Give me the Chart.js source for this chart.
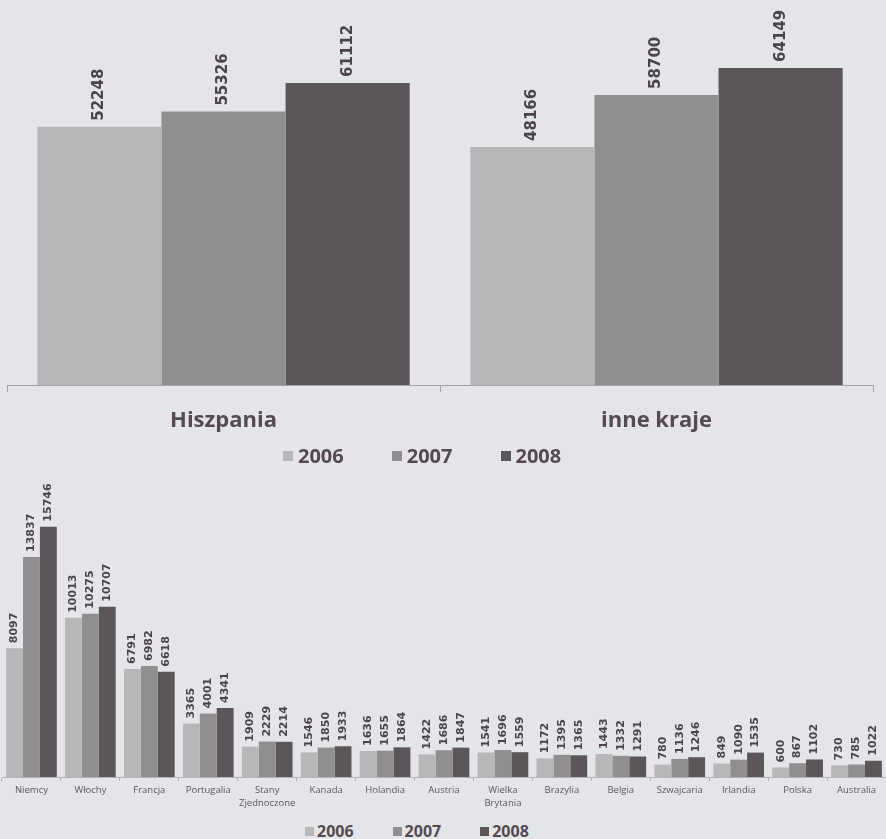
<!DOCTYPE html>
<html lang="pl">
<head>
<meta charset="utf-8">
<title>Wyjazdy</title>
<script src="https://cdn.jsdelivr.net/npm/chart.js@4"></script>
<style>
  html, body {
    margin: 0;
    padding: 0;
    background: #e3e5e9;
    width: 886px;
    height: 839px;
    overflow: hidden;
    position: relative;
  }
  canvas {
    position: absolute;
    left: 0;
  }
  #chartTop {
    top: 0;
  }
  #chartBottom {
    top: 470px;
  }
  .legend {
    position: absolute;
    display: flex;
    align-items: center;
    font-family: "Open Sans", sans-serif;
    font-weight: bold;
    color: #544a50;
  }
  .legend span.item {
    display: flex;
    align-items: center;
  }
  .legend-top {
    left: 283px;
    top: 446px;
    gap: 48px;
    font-size: 20px;
    line-height: 20px;
  }
  .legend-top i {
    width: 10px;
    height: 10px;
    margin-right: 5px;
  }
  .legend-bottom {
    left: 305px;
    top: 823px;
    gap: 39px;
    font-size: 16px;
    line-height: 16px;
  }
  .legend-bottom i {
    width: 9px;
    height: 9px;
    margin-right: 3px;
  }
</style>
</head>
<body>
<canvas id="chartTop" width="886" height="445"></canvas>
<canvas id="chartBottom" width="886" height="346"></canvas>
<div class="legend legend-top" id="legendTop"></div>
<div class="legend legend-bottom" id="legendBottom"></div>

<script>
// ------------- DANE -------------
const years = ["2006", "2007", "2008"];
const yearColors = ["#b7b7b7", "#8f8f8f", "#5b5658"];

// górny wykres
const topCategories = ["Hiszpania", "inne kraje"];
const top2006 = [52248, 48166];
const top2007 = [55326, 58700];
const top2008 = [61112, 64149];

// dolny wykres
const countries = [
  "Niemcy",
  "Włochy",
  "Francja",
  "Portugalia",
  ["Stany", "Zjednoczone"],
  "Kanada",
  "Holandia",
  "Austria",
  ["Wielka", "Brytania"],
  "Brazylia",
  "Belgia",
  "Szwajcaria",
  "Irlandia",
  "Polska",
  "Australia",
];
const countries2006 = [8097, 10013, 6791, 3365, 1909, 1546, 1636, 1422, 1541, 1172, 1443, 780, 849, 600, 730];
const countries2007 = [13837, 10275, 6982, 4001, 2229, 1850, 1655, 1686, 1696, 1395, 1332, 1136, 1090, 867, 785];
const countries2008 = [15746, 10707, 6618, 4341, 2214, 1933, 1864, 1847, 1559, 1365, 1291, 1246, 1535, 1102, 1022];

// ------------- etykiety wartości nad słupkami -------------
const valueLabels = {
  id: "valueLabels",
  afterDatasetsDraw(chart, args, opts) {
    const ctx = chart.ctx;
    ctx.save();
    ctx.font = opts.font;
    ctx.fillStyle = opts.color;
    ctx.textAlign = "left";
    ctx.textBaseline = "middle";
    chart.data.datasets.forEach((ds, i) => {
      chart.getDatasetMeta(i).data.forEach((bar, j) => {
        ctx.save();
        ctx.translate(bar.x, bar.y - opts.offset);
        ctx.rotate(-Math.PI / 2);
        ctx.fillText(ds.data[j], 0, 0);
        ctx.restore();
      });
    });
    ctx.restore();
  },
};

function makeDatasets(series) {
  return series.map((data, i) => ({
    label: years[i],
    data: data,
    backgroundColor: yearColors[i],
    borderWidth: 0,
    barPercentage: 1,
    categoryPercentage: 0.86,
  }));
}

function makeLegend(id) {
  const box = document.getElementById(id);
  years.forEach((y, i) => {
    const item = document.createElement("span");
    item.className = "item";
    const sq = document.createElement("i");
    sq.style.background = yearColors[i];
    item.appendChild(sq);
    item.appendChild(document.createTextNode(y));
    box.appendChild(item);
  });
}

// ---------------- GÓRNY WYKRES ---------------
const ctx1 = document.getElementById("chartTop").getContext("2d");
const chartTop = new Chart(ctx1, {
  type: "bar",
  data: {
    labels: topCategories,
    datasets: makeDatasets([top2006, top2007, top2008]),
  },
  options: {
    responsive: false,
    animation: false,
    layout: { padding: { left: 7, right: 13, top: 0, bottom: 0 } },
    plugins: {
      legend: { display: false },
      tooltip: { enabled: false },
      valueLabels: {
        font: "bold 15px 'DejaVu Sans'",
        color: "#4b4548",
        offset: 6,
      },
    },
    scales: {
      y: { display: false, min: 0, max: 77900 },
      x: {
        grid: {
          offset: true,
          drawOnChartArea: false,
          drawTicks: true,
          tickLength: 7,
          color: "#a3a3a3",
        },
        border: { display: true, color: "#a3a3a3" },
        ticks: {
          font: { family: "Open Sans", size: 22, weight: "bold" },
          color: "#554a50",
          padding: 16,
          maxRotation: 0,
        },
        afterFit: (scale) => {
          scale.height = 60;
        },
      },
    },
  },
  plugins: [valueLabels],
});

// ---------------- DOLNY WYKRES ---------------
const ctx2 = document.getElementById("chartBottom").getContext("2d");
const chartBottom = new Chart(ctx2, {
  type: "bar",
  data: {
    labels: countries,
    datasets: makeDatasets([countries2006, countries2007, countries2008]),
  },
  options: {
    responsive: false,
    animation: false,
    layout: { padding: { left: 2, right: 0, top: 0, bottom: 0 } },
    plugins: {
      legend: { display: false },
      tooltip: { enabled: false },
      valueLabels: {
        font: "bold 11px 'DejaVu Sans'",
        color: "#4b4548",
        offset: 5,
      },
    },
    scales: {
      y: { display: false, min: 0, max: 19308 },
      x: {
        grid: {
          offset: true,
          drawOnChartArea: false,
          drawTicks: true,
          tickLength: 4,
          color: "#b3b3b3",
        },
        border: { display: true, color: "#b3b3b3" },
        ticks: {
          font: { family: "Open Sans", size: 9.5, lineHeight: 1.35 },
          color: "#5e5560",
          padding: 3,
          maxRotation: 0,
          autoSkip: false,
        },
        afterFit: (scale) => {
          scale.height = 39;
        },
      },
    },
  },
  plugins: [valueLabels],
});

makeLegend("legendTop");
makeLegend("legendBottom");
</script>
</body>
</html>
